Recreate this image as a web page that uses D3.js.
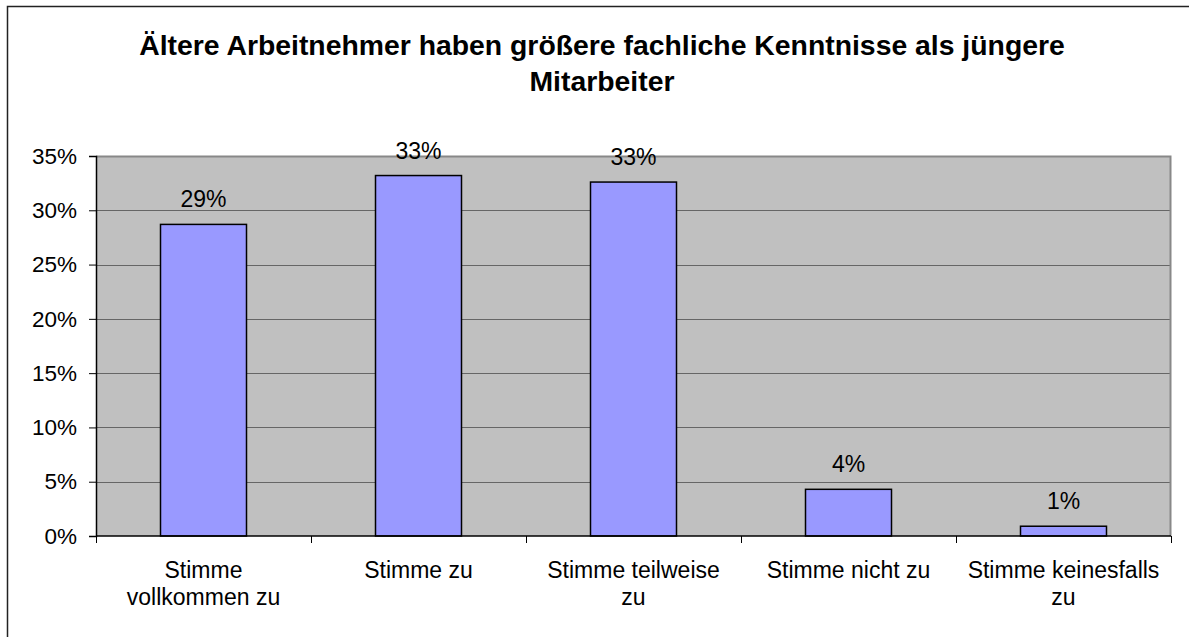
<!DOCTYPE html>
<html>
<head>
<meta charset="utf-8">
<script src="https://cdn.jsdelivr.net/npm/d3@7"></script>
<style>
  body { margin: 0; background: #fff; }
  text { font-family: "Liberation Sans", Arial, sans-serif; fill: #000; }
</style>
</head>
<body>
<svg id="chart"></svg>
<script>
// chart data
const categories = [
  ['Stimme', 'vollkommen zu'],
  ['Stimme zu'],
  ['Stimme teilweise', 'zu'],
  ['Stimme nicht zu'],
  ['Stimme keinesfalls', 'zu'],
];
const values = [28.7, 33.2, 32.6, 4.3, 0.9];
const valueLabels = ['29%', '33%', '33%', '4%', '1%'];
const yTicks = [0, 5, 10, 15, 20, 25, 30, 35];
const titleLines = [
  'Ältere Arbeitnehmer haben größere fachliche Kenntnisse als jüngere',
  'Mitarbeiter',
];

const width = 1189;
const height = 637;
const margin = { top: 156, right: 18, bottom: 101, left: 96 };
const innerW = width - margin.left - margin.right;
const innerH = height - margin.top - margin.bottom;

const svg = d3.select('#chart').attr('width', width).attr('height', height);

// outer chart border (only top/left visible in the reference)
svg.append('rect')
  .attr('x', 7.5).attr('y', 6.5)
  .attr('width', width + 10).attr('height', height + 10)
  .attr('fill', 'none').attr('stroke', '#222').attr('stroke-width', 1.5);

// title
const title = svg.append('g')
  .selectAll('text')
  .data(titleLines)
  .join('text')
  .attr('x', 602)
  .attr('y', (d, i) => 55 + i * 36)
  .attr('text-anchor', 'middle')
  .style('font-size', '26px')
  .style('font-weight', 'bold')
  .text(d => d);

// size the title so the first line spans the same width as in the reference
const w0 = title.filter((d, i) => i === 0).node().getComputedTextLength();
title.style('font-size', (26 * 926 / w0) + 'px');

const xScale = d3.scaleBand()
  .domain(d3.range(categories.length))
  .range([0, innerW])
  .paddingInner(0.6)
  .paddingOuter(0.3);

const yScale = d3.scaleLinear().domain([0, 35]).range([innerH, 0]);

const chart = svg.append('g')
  .attr('transform', `translate(${margin.left},${margin.top})`);

// plot background
chart.append('rect')
  .attr('width', innerW).attr('height', innerH)
  .attr('fill', '#c0c0c0');

// gridlines
chart.append('g')
  .selectAll('line')
  .data(yTicks.filter(d => d > 0 && d < 35))
  .join('line')
  .attr('x1', 0).attr('x2', innerW)
  .attr('y1', d => Math.round(yScale(d)) + 0.5)
  .attr('y2', d => Math.round(yScale(d)) + 0.5)
  .attr('stroke', '#666').attr('stroke-width', 1);

// plot border top + right
chart.append('path')
  .attr('d', `M0,0.5H${innerW - 0.5}V${innerH}`)
  .attr('fill', 'none').attr('stroke', '#888').attr('stroke-width', 2);

// bars
chart.selectAll('.bar')
  .data(values)
  .join('rect')
  .attr('class', 'bar')
  .attr('x', (d, i) => xScale(i))
  .attr('y', d => yScale(d))
  .attr('width', xScale.bandwidth())
  .attr('height', d => innerH - yScale(d))
  .attr('fill', '#9999ff')
  .attr('stroke', '#000')
  .attr('stroke-width', 1.5);

// value labels
chart.selectAll('.val')
  .data(values)
  .join('text')
  .attr('class', 'val')
  .attr('x', (d, i) => xScale(i) + xScale.bandwidth() / 2)
  .attr('y', d => yScale(d) - 17)
  .attr('text-anchor', 'middle')
  .style('font-size', '23px')
  .text((d, i) => valueLabels[i]);

// y axis
const yAxis = d3.axisLeft(yScale)
  .tickValues(yTicks)
  .tickSize(7)
  .tickPadding(12)
  .tickFormat(d => d + '%');

const yAxisG = chart.append('g').call(yAxis);
yAxisG.select('.domain').attr('stroke', '#000').attr('stroke-width', 1.5);
yAxisG.selectAll('.tick line').attr('stroke', '#000');
yAxisG.selectAll('.tick text')
  .style('font-size', '22.5px')
  .style('font-family', '"Liberation Sans", Arial, sans-serif');

// x axis: ticks between categories
const xBoundaries = d3.range(categories.length + 1).map(i => i * innerW / categories.length);
const xAxisG = chart.append('g').attr('transform', `translate(0,${innerH})`);
xAxisG.append('line')
  .attr('x1', 0).attr('x2', innerW)
  .attr('y1', 0).attr('y2', 0)
  .attr('stroke', '#000').attr('stroke-width', 1.5);
xAxisG.selectAll('.xtick')
  .data(xBoundaries)
  .join('line')
  .attr('class', 'xtick')
  .attr('x1', d => Math.round(d) + 0.5).attr('x2', d => Math.round(d) + 0.5)
  .attr('y1', 0).attr('y2', 7)
  .attr('stroke', '#000');

xAxisG.selectAll('.xlabel')
  .data(categories)
  .join('text')
  .attr('class', 'xlabel')
  .attr('text-anchor', 'middle')
  .attr('transform', (d, i) => `translate(${xScale(i) + xScale.bandwidth() / 2},0)`)
  .style('font-size', '23px')
  .selectAll('tspan')
  .data(d => d)
  .join('tspan')
  .attr('x', 0)
  .attr('y', (d, i) => 42 + i * 27)
  .text(d => d);
</script>
</body>
</html>
